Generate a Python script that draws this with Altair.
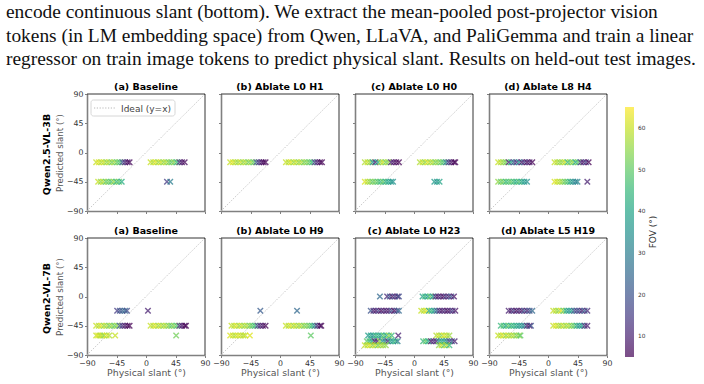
import altair as alt
import pandas as pd

# ---------------------------------------------------------------- text
CAPTION = [
    "encode continuous slant (bottom). We extract the mean-pooled post-projector vision",
    "tokens (in LM embedding space) from Qwen, LLaVA, and PaliGemma and train a linear",
    "regressor on train image tokens to predict physical slant. Results on held-out test images.",
]
MODELS = ["Qwen2.5-VL-3B", "Qwen2-VL-7B"]
TITLES = [
    ["(a) Baseline", "(b) Ablate L0 H1", "(c) Ablate L0 H0", "(d) Ablate L8 H4"],
    ["(a) Baseline", "(b) Ablate L0 H9", "(c) Ablate L0 H23", "(d) Ablate L5 H19"],
]
TICKS = [-90, -45, 0, 45, 90]
FOV_TICKS = [10, 20, 30, 40, 50, 60]
FOV_DOMAIN = [5, 65]

# ---------------------------------------------------------------- data
# Each strip: (predicted slant, physical slant values, FOV values)
Q25_BASELINE = [
    (-15, [-76, -72, -68, -64, -60, -56, -52, -48, -44, -40, -36, -32, -28, -25],
          [60, 62, 58, 60, 55, 58, 52, 56, 50, 48, 20, 10, 8, 6]),
    (-15, [7, 11, 15, 19, 23, 27, 31, 35, 39, 43, 47, 51, 55, 59],
          [60, 58, 62, 56, 60, 55, 58, 52, 50, 54, 45, 12, 8, 6]),
    (-45, [-73, -69, -65, -61, -57, -53, -49, -45, -41, -37],
          [60, 55, 58, 50, 52, 48, 55, 45, 50, 42]),
    (-45, [32, 37], [15, 30]),
]
Q25_L0H1 = [
    (-15, [-76, -72, -68, -64, -60, -56, -52, -48, -44, -40, -36, -32, -28, -25, -22],
          [60, 62, 58, 56, 60, 55, 58, 52, 56, 50, 20, 12, 8, 6, 5]),
    (-15, [9, 13, 17, 21, 25, 29, 33, 37, 41, 45, 49, 53, 57, 61, 64],
          [60, 58, 62, 56, 60, 55, 58, 52, 54, 50, 45, 15, 10, 6, 5]),
]
Q25_L0H0 = [
    (-15, [-75, -71, -67, -63, -59, -55, -51, -47, -43, -39, -35, -31, -27, -23],
          [58, 60, 55, 35, 10, 40, 56, 60, 52, 55, 10, 8, 6, 5]),
    (-15, [9, 13, 17, 21, 25, 29, 33, 37, 41, 45, 49, 53, 57, 61, 63],
          [58, 60, 55, 62, 56, 58, 52, 55, 50, 48, 30, 12, 8, 6, 5]),
    (-45, [-75, -71, -67, -63, -59, -55, -51, -47, -43, -39, -35, -32],
          [62, 58, 55, 50, 52, 48, 45, 50, 42, 40, 38, 35]),
    (-45, [31, 35, 39], [38, 35, 40]),
]
Q25_L8H4 = [
    (-15, [-76, -72, -68, -64, -60, -56, -52, -48, -44, -40, -36, -32, -28, -24],
          [60, 58, 55, 52, 10, 40, 20, 12, 35, 8, 15, 6, 10, 5]),
    (-15, [10, 14, 18, 22, 26, 30, 34, 38, 42, 46, 50, 54, 58, 62],
          [60, 58, 55, 56, 60, 45, 52, 55, 40, 50, 12, 8, 15, 5]),
    (-45, [-76, -72, -68, -64, -60, -56, -52, -48, -44, -40, -36, -32],
          [55, 50, 52, 45, 48, 50, 45, 42, 48, 40, 38, 35]),
    (-45, [10, 14, 18, 22, 26, 30, 34, 38, 42, 45],
          [62, 60, 58, 55, 50, 48, 40, 35, 30, 32]),
    (-45, [60], [10]),
]
Q2_BASELINE = [
    (-45, [-76, -72, -68, -64, -60, -56, -52, -48, -44, -40, -36, -32, -28, -25],
          [60, 58, 62, 55, 58, 52, 56, 50, 55, 20, 12, 8, 6, 5]),
    (-45, [7, 11, 15, 19, 23, 27, 31, 35, 39, 43, 47, 51, 55, 59, 61],
          [60, 58, 62, 56, 60, 55, 58, 52, 50, 54, 48, 12, 8, 6, 5]),
    (-22, [-44, -40, -36, -32, -29], [15, 20, 22, 25, 18]),
    (-22, [3], [10]),
    (-60, [-76, -73, -70, -67, -64, -60, -56, -47], [60, 62, 58, 60, 55, 62, 58, 60]),
    (-60, [46], [52]),
]
Q2_L0H9 = [
    (-45, [-74, -70, -66, -62, -58, -54, -50, -46, -42, -38, -34, -30, -26, -22],
          [60, 58, 62, 56, 60, 55, 58, 52, 50, 45, 15, 10, 8, 5]),
    (-45, [9, 13, 17, 21, 25, 29, 33, 37, 41, 45, 49, 53, 57, 61, 63],
          [60, 58, 62, 56, 60, 55, 58, 52, 54, 50, 45, 30, 10, 8, 5]),
    (-22, [-30, 26], [22, 25]),
    (-60, [-76, -72, -68, -64, -60, -56, -53, -46], [62, 60, 58, 62, 60, 58, 60, 62]),
    (-60, [47], [50]),
]
Q2_L0H23 = [
    (0, [-52, -41, -37, -33, -29, -25, -23], [25, 12, 20, 8, 15, 10, 18]),
    (0, [13, 17, 21, 25, 29, 33, 37, 41, 45, 49, 53, 57, 61],
        [40, 45, 38, 50, 35, 10, 8, 12, 6, 15, 10, 20, 8]),
    (-22, [-66, -62, -58, -54, -50, -46, -42, -38, -34, -30, -26, -23],
          [20, 10, 8, 15, 6, 12, 8, 10, 18, 6, 15, 25]),
    (-22, [11, 15, 19, 23, 27, 31, 35, 39, 43, 47, 51, 55, 59, 63],
          [60, 58, 62, 40, 45, 35, 20, 10, 8, 12, 6, 10, 15, 8]),
    (-60, [-70, -66, -62, -58, -54, -50, -46, -42, -38, -34, -24],
          [38, 40, 35, 45, 42, 38, 50, 40, 55, 45, 10]),
    (-60, [34, 38, 42, 46, 50, 54], [58, 60, 55, 62, 58, 56]),
    (-69, [-72, -68, -64, -60, -56, -52, -48, -44, -40, -36, -32, -28, -25],
          [50, 45, 40, 8, 10, 55, 35, 30, 12, 40, 38, 45, 30]),
    (-69, [14, 18, 22, 26, 30, 34, 38, 42, 46, 50, 54, 58, 62],
          [45, 50, 40, 8, 12, 10, 35, 40, 38, 30, 15, 20, 10]),
    (-75, [-75, -71, -67, -63, -59, -55, -51, -47, -43],
          [60, 58, 62, 55, 60, 52, 58, 56, 55]),
    (-75, [38, 42, 46, 50, 54], [55, 60, 50, 58, 45]),
]
Q2_L5H19 = [
    (-22, [-60, -56, -52, -48, -44, -40, -36, -32, -28, -24],
          [10, 8, 15, 6, 12, 8, 20, 10, 18, 25]),
    (-22, [8, 12, 16, 20, 24, 28, 32, 36, 40, 44, 48, 52, 56, 60],
          [60, 58, 55, 62, 50, 40, 35, 38, 20, 15, 18, 10, 22, 12]),
    (-45, [-72, -68, -64, -60, -56, -52, -48, -44, -40, -36, -32, -28, -26],
          [45, 48, 40, 50, 42, 45, 40, 38, 35, 30, 10, 8, 20]),
    (-45, [8, 12, 16, 20, 24, 28, 32, 36, 40, 44, 48, 52, 56, 60],
          [60, 62, 58, 56, 60, 55, 58, 52, 50, 40, 35, 38, 12, 10]),
    (-60, [-76, -72, -68, -64, -60, -56, -52, -48, -44, -42],
          [60, 58, 62, 55, 60, 56, 58, 52, 55, 50]),
]
GRID = [
    [Q25_BASELINE, Q25_L0H1, Q25_L0H0, Q25_L8H4],
    [Q2_BASELINE, Q2_L0H9, Q2_L0H23, Q2_L5H19],
]

# ---------------------------------------------------------------- styling
W, H = 118, 117
SANS = "DejaVu Sans"
X_MARKER = "M-1,-1L1,1M-1,1L1,-1"
ONE = pd.DataFrame({"k": [0]})

FOV_COLOR = alt.Color(
    "fov:Q",
    scale=alt.Scale(scheme="viridis", domain=FOV_DOMAIN),
    legend=alt.Legend(
        type="gradient", orient="none", legendX=538, legendY=13,
        direction="vertical", gradientLength=250, gradientThickness=9,
        gradientOpacity=0.7, gradientStrokeWidth=0, values=FOV_TICKS,
        labelFont=SANS, labelFontSize=5.8, labelColor="#333",
        labelOffset=4, title="", padding=0,
    ),
)


def frame(strips):
    rows = [{"physical": x, "predicted": lvl, "fov": f}
            for lvl, xs, fs in strips for x, f in zip(xs, fs)]
    return pd.DataFrame(rows)


def text_layer(txt, x, y, **kw):
    return alt.Chart(ONE).mark_text(**kw).encode(
        x=alt.value(x), y=alt.value(y), text=alt.value(txt))


def panel(strips, title, r, c):
    bottom, left = r == 1, c == 0
    x_enc = alt.X("physical:Q", scale=alt.Scale(domain=[-90, 90], nice=False),
                  axis=alt.Axis(values=TICKS, labels=bottom, labelFlush=False,
                                title="Physical slant (°)" if bottom else ""))
    y_enc = alt.Y("predicted:Q", scale=alt.Scale(domain=[-90, 90], nice=False),
                  axis=alt.Axis(values=TICKS, labels=left, labelFlush=False,
                                title="Predicted slant (°)" if left else ""))

    diag = alt.Chart(pd.DataFrame({"physical": [-90, 90], "predicted": [-90, 90]})).mark_line(
        color="#b8b8b8", strokeWidth=0.9, strokeDash=[1.2, 1.6]).encode(x=x_enc, y=y_enc)
    pts = alt.Chart(frame(strips)).mark_point(
        shape=X_MARKER, filled=False, size=30, strokeWidth=1.4, opacity=0.75
    ).encode(x=x_enc, y=y_enc, color=FOV_COLOR)
    top = alt.Chart(ONE).mark_rule(color="black", strokeWidth=0.8).encode(
        x=alt.value(0), x2=alt.value(W), y=alt.value(0))
    right = alt.Chart(ONE).mark_rule(color="black", strokeWidth=0.8).encode(
        x=alt.value(W), y=alt.value(0), y2=alt.value(H))
    ttl = text_layer(title, W / 2, -7, font=SANS, fontSize=9.5, fontWeight="bold",
                     baseline="middle", align="center", color="black")
    layers = [diag, pts, top, right, ttl]

    if left:
        layers.append(text_layer(MODELS[r], -40, H / 2 + 2, font=SANS, fontSize=9.5,
                                 fontWeight="bold", angle=270, baseline="middle",
                                 align="center", color="black"))
    if r == 0 and c == 0:
        # legend for the diagonal reference line
        layers.append(alt.Chart(ONE).mark_rect(
            cornerRadius=2.5, fill="white", fillOpacity=0.8, stroke="#cccccc",
            strokeWidth=0.8).encode(x=alt.value(4), x2=alt.value(88),
                                    y=alt.value(6), y2=alt.value(22)))
        layers.append(alt.Chart(ONE).mark_rule(
            color="#b0b0b0", strokeWidth=0.9, strokeDash=[1.2, 1.6]).encode(
            x=alt.value(7), x2=alt.value(29), y=alt.value(14)))
        layers.append(text_layer("Ideal (y=x)", 34, 14.5, font=SANS, fontSize=9,
                                 baseline="middle", align="left", color="#444"))
        # caption lines above the figure
        for i, line in enumerate(CAPTION):
            layers.append(text_layer(line, -81, -82 + 23.5 * i, font="Liberation Serif",
                                     fontSize=19.4, baseline="middle", align="left",
                                     color="#111"))
    if r == 0 and c == 3:
        layers.append(text_layer("FOV (°)", 164, 138, font=SANS, fontSize=9, angle=270,
                                 baseline="middle", align="center", color="#333"))

    return alt.layer(*layers).properties(width=W, height=H)


panels = [panel(GRID[r][c], TITLES[r][c], r, c) for r in range(2) for c in range(4)]

chart = alt.concat(
    *panels, columns=4, spacing={"row": 27, "column": 16}, bounds="flush"
).properties(
    padding={"left": 5, "top": 1, "right": 0, "bottom": 0},
    background="white",
).configure_view(
    stroke="transparent"
).configure_axis(
    grid=False, domainColor="#808080", domainWidth=1.6, tickColor="#808080",
    tickSize=2.5, tickWidth=1, labelFont=SANS, labelFontSize=7.8, labelColor="#333",
    labelPadding=1.5, titleFont=SANS, titleFontWeight="normal", titleColor="#555",
    titlePadding=2,
).configure_axisX(
    titleFontSize=9.4
).configure_axisY(
    titleFontSize=8.6
)

chart.save("out.html", embed_options={"renderer": "svg", "actions": False})
